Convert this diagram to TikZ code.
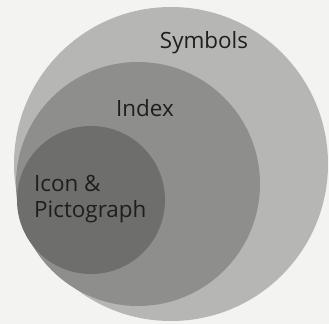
\documentclass[tikz,border=0pt]{standalone}
\usepackage{fontspec}
\setmainfont{Open Sans}
\usetikzlibrary{positioning}
\definecolor{bgpaper}{RGB}{243,243,241}
\definecolor{symfill}{RGB}{182,182,180}
\definecolor{idxfill}{RGB}{142,142,140}
\definecolor{iconfill}{RGB}{110,110,108}
\definecolor{txtdark}{RGB}{30,30,30}
\tikzset{
  setcircle/.style={circle, draw=none, inner sep=0pt},
  setlabel/.style={font=\fontsize{22.5}{26}\selectfont, text=txtdark, inner sep=0pt}
}

\begin{document}
\begin{tikzpicture}[x=1bp, y=-1bp]
  \fill[bgpaper] (0,0) rectangle (329,324);
  \useasboundingbox (0,0) rectangle (329,324);

  \node[setcircle, fill=symfill, minimum size=314bp] (symbols) at (171,164) {};
  \node[setcircle, fill=idxfill, minimum size=244bp] (index) at (138,184) {};
  \node[setcircle, fill=iconfill, minimum size=148bp] (icon) at (91,200) {};

  \node[setlabel] (symlabel) at (204,43) {Symbols};
  \node[setlabel] (idxlabel) at (145,108) {Index};
  \node[setlabel, align=left, anchor=west] (iconlabel) at (34,199) {Icon \&\\Pictograph};
\end{tikzpicture}
\end{document}
